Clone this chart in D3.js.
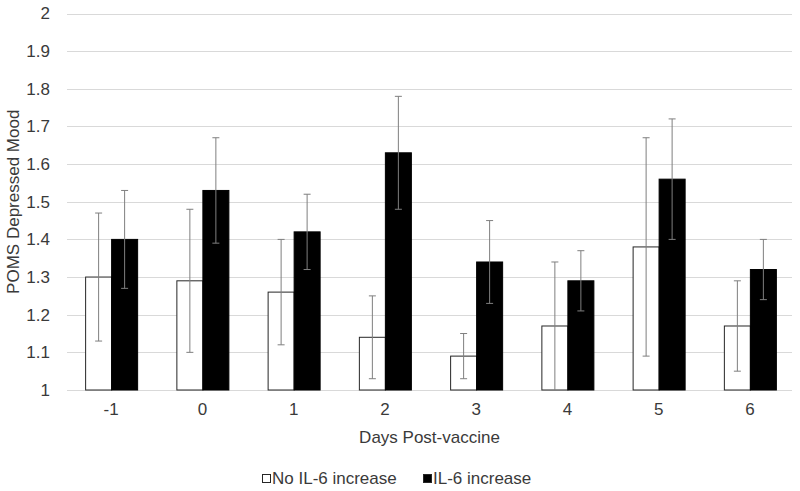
<!DOCTYPE html>
<html>
<head>
<meta charset="utf-8">
<script src="https://cdn.jsdelivr.net/npm/d3@7"></script>
<style>
  html, body { margin: 0; padding: 0; background: #fff; }
  svg { display: block; font-family: "Liberation Sans", Arial, sans-serif; }
</style>
</head>
<body>
<svg id="chart" width="800" height="491"></svg>
<script>
const categories = ["-1", "0", "1", "2", "3", "4", "5", "6"];
const seriesNames = ["No IL-6 increase", "IL-6 increase"];
const noIncrease = [1.30, 1.29, 1.26, 1.14, 1.09, 1.17, 1.38, 1.17];
const noIncreaseErr = [0.17, 0.19, 0.14, 0.11, 0.06, 0.17, 0.29, 0.12];
const increase = [1.40, 1.53, 1.42, 1.63, 1.34, 1.29, 1.56, 1.32];
const increaseErr = [0.13, 0.14, 0.10, 0.15, 0.11, 0.08, 0.16, 0.08];
const yTicks = [1, 1.1, 1.2, 1.3, 1.4, 1.5, 1.6, 1.7, 1.8, 1.9, 2];

(function () {
const svg = d3.select("#chart");
const mLeft = 65.5, mRight = 795.5, mTop = 13.5, mBottom = 390;
const textColor = "#3a3a3a";
const fs = 17;

const x0 = d3.scaleBand().domain(categories).range([mLeft, mRight]).paddingInner(0.43).paddingOuter(0.215);
const x1 = d3.scaleBand().domain(seriesNames).range([0, x0.bandwidth()]);
const y = d3.scaleLinear().domain([1, 2]).range([mBottom, mTop]);

// gridlines
svg.append("g").selectAll("line").data(yTicks).join("line")
  .attr("x1", 67).attr("x2", 792)
  .attr("y1", d => Math.round(y(d)) + 0.5).attr("y2", d => Math.round(y(d)) + 0.5)
  .attr("stroke", "#d9d9d9").attr("stroke-width", 1);

// y axis labels
const yAxis = d3.axisLeft(y).tickValues(yTicks).tickFormat(d3.format("~g")).tickSize(0).tickPadding(0);
const yg = svg.append("g").attr("transform", `translate(50,0)`).call(yAxis);
yg.select(".domain").remove();
yg.selectAll("text").attr("font-size", fs).attr("fill", textColor).attr("font-family", "Liberation Sans, Arial, sans-serif");

// x axis labels
const xAxis = d3.axisBottom(x0).tickSize(0).tickPadding(0);
const xg = svg.append("g").attr("transform", `translate(0,403)`).call(xAxis);
xg.select(".domain").remove();
xg.selectAll("text").attr("font-size", fs).attr("fill", textColor).attr("font-family", "Liberation Sans, Arial, sans-serif");

const rows = categories.map((c, i) => ({
  cat: c,
  vals: [
    { s: seriesNames[0], v: noIncrease[i], e: noIncreaseErr[i] },
    { s: seriesNames[1], v: increase[i], e: increaseErr[i] }
  ]
}));

const groups = svg.append("g").selectAll("g").data(rows).join("g")
  .attr("transform", d => `translate(${x0(d.cat)},0)`);

groups.selectAll("rect").data(d => d.vals).join("rect")
  .attr("x", d => x1(d.s) + 0.5)
  .attr("y", d => y(d.v))
  .attr("width", x1.bandwidth())
  .attr("height", d => y(1) - y(d.v))
  .attr("fill", d => d.s === seriesNames[0] ? "#ffffff" : "#000000")
  .attr("stroke", d => d.s === seriesNames[0] ? "#262626" : "#000000")
  .attr("stroke-width", 1);

// error bars
const eb = groups.selectAll("g.err").data(d => d.vals).join("g").attr("class", "err")
  .attr("stroke", "#7f7f7f").attr("stroke-width", 1);
eb.append("line")
  .attr("x1", d => Math.round(x1(d.s) + x1.bandwidth() / 2) + 0.5)
  .attr("x2", d => Math.round(x1(d.s) + x1.bandwidth() / 2) + 0.5)
  .attr("y1", d => y(Math.max(1, d.v - d.e))).attr("y2", d => y(d.v + d.e));
eb.append("line")
  .attr("x1", d => Math.round(x1(d.s) + x1.bandwidth() / 2) - 3)
  .attr("x2", d => Math.round(x1(d.s) + x1.bandwidth() / 2) + 4)
  .attr("y1", d => y(d.v + d.e)).attr("y2", d => y(d.v + d.e));
eb.filter(d => d.v - d.e > 1.001).append("line")
  .attr("x1", d => Math.round(x1(d.s) + x1.bandwidth() / 2) - 3)
  .attr("x2", d => Math.round(x1(d.s) + x1.bandwidth() / 2) + 4)
  .attr("y1", d => y(d.v - d.e)).attr("y2", d => y(d.v - d.e));

// axis titles
svg.append("text").attr("x", (mLeft + mRight) / 2 - 1).attr("y", 443)
  .attr("text-anchor", "middle").attr("font-size", fs).attr("fill", textColor)
  .text("Days Post-vaccine");
svg.append("text").attr("transform", `translate(19,${(mTop + mBottom) / 2}) rotate(-90)`)
  .attr("text-anchor", "middle").attr("font-size", fs).attr("fill", textColor)
  .text("POMS Depressed Mood");

// legend
const legendItems = [
  { name: seriesNames[0], fill: "#ffffff", x: 262 },
  { name: seriesNames[1], fill: "#000000", x: 423 }
];
const lg = svg.append("g").selectAll("g").data(legendItems).join("g")
  .attr("transform", d => `translate(${d.x},0)`);
lg.append("rect").attr("x", 0.5).attr("y", 474.5).attr("width", 8).attr("height", 8)
  .attr("fill", d => d.fill).attr("stroke", "#262626").attr("stroke-width", 1);
lg.append("text").attr("x", 10).attr("y", 484).attr("font-size", fs).attr("fill", textColor)
  .text(d => d.name);
})();
</script>
</body>
</html>
